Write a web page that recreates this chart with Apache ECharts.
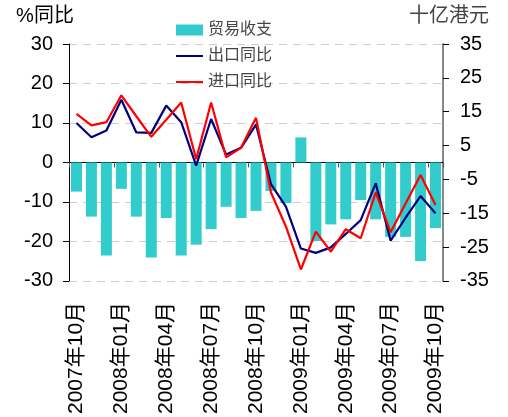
<!DOCTYPE html>
<html>
<head>
<meta charset="utf-8">
<script src="https://cdn.jsdelivr.net/npm/echarts@6/dist/echarts.min.js"></script>
<style>
  html, body { margin: 0; padding: 0; background: #fff; }
  #chart { width: 508px; height: 417px; }
</style>
</head>
<body>
<div id="chart"></div>
<script>
// 月份 2007年10月 - 2009年10月
const months = [
  "2007年10月", "2007年11月", "2007年12月",
  "2008年01月", "2008年02月", "2008年03月",
  "2008年04月", "2008年05月", "2008年06月",
  "2008年07月", "2008年08月", "2008年09月",
  "2008年10月", "2008年11月", "2008年12月",
  "2009年01月", "2009年02月", "2009年03月",
  "2009年04月", "2009年05月", "2009年06月",
  "2009年07月", "2009年08月", "2009年09月",
  "2009年10月"
];
// 贸易收支 (十亿港元, 右轴)
const tradeBalance = [
  -8.6, -16.0, -27.5, -7.8, -16.0, -28.1, -16.4, -27.5, -24.3, -19.7,
  -13.1, -16.4, -14.3, -8.4, -12.0, 7.4, -23.2, -18.3, -16.8, -11.1,
  -16.8, -22.0, -22.0, -29.1, -19.4
];
// 出口同比 (%)
const exportYoY = [
  10.0, 6.4, 8.1, 15.9, 7.6, 7.5, 14.4, 10.2, -0.8, 11.0,
  2.0, 3.7, 9.6, -5.5, -11.2, -21.8, -22.9, -21.5, -18.1, -14.6,
  -5.3, -19.8, -14.0, -8.5, -12.9
];
// 进口同比 (%)
const importYoY = [
  12.3, 9.4, 10.2, 17.0, 11.7, 6.5, 10.8, 15.2, 0.8, 15.2,
  1.3, 3.7, 11.3, -7.6, -16.2, -27.1, -17.5, -22.6, -16.9, -19.2,
  -7.6, -17.7, -10.4, -3.2, -10.8
];

const numFont = "'Liberation Sans', 'Noto Sans CJK SC', sans-serif";

const myChart = echarts.init(document.getElementById("chart"), null, { renderer: "canvas" });

const option = {
  animation: false,
  backgroundColor: "#fff",
  grid: { left: 69, right: 65, top: 44, bottom: 135 },
  legend: {
    orient: "vertical",
    left: 170,
    top: 17,
    itemWidth: 27,
    itemHeight: 11,
    itemGap: 10,
    textStyle: { fontSize: 16, lineHeight: 16, color: "#444", fontFamily: numFont },
    data: [
      { name: "贸易收支", icon: "rect" },
      { name: "出口同比", itemStyle: { opacity: 0 } },
      { name: "进口同比", itemStyle: { opacity: 0 } }
    ]
  },
  xAxis: [
    {
      // 零轴: 线 + 刻度
      type: "category",
      data: months,
      position: "bottom",
      axisLine: { onZero: true, lineStyle: { color: "#000", width: 1 } },
      axisTick: { show: true, interval: 2, length: 5, lineStyle: { color: "#555" } },
      axisLabel: { show: false },
      splitLine: { show: false }
    },
    {
      // 底部标签
      type: "category",
      data: months,
      position: "bottom",
      axisLine: { show: false, onZero: false },
      axisTick: { show: false },
      axisLabel: {
        interval: 2,
        rotate: 90,
        margin: 21,
        fontSize: 21,
        color: "#000",
        fontFamily: numFont
      },
      splitLine: { show: false }
    }
  ],
  yAxis: [
    {
      type: "value",
      min: -30,
      max: 30,
      interval: 10,
      position: "left",
      name: "%同比",
      nameGap: 18,
      nameTextStyle: { fontSize: 20, color: "#000", fontFamily: numFont, align: "center", padding: [0, 48, 0, 0] },
      axisLine: { show: true, lineStyle: { color: "#000", width: 1 } },
      axisTick: { show: true, length: 6, lineStyle: { color: "#000" } },
      axisLabel: { fontSize: 20, color: "#000", margin: 16, fontFamily: numFont },
      splitLine: { show: true, lineStyle: { type: [8, 6], color: "#ccc", width: 1 } }
    },
    {
      type: "value",
      min: -35,
      max: 35,
      interval: 10,
      position: "right",
      name: "十亿港元",
      nameGap: 18,
      nameTextStyle: { fontSize: 20, color: "#444", fontFamily: numFont, align: "center", padding: [0, 0, 0, 12] },
      axisLine: { show: true, lineStyle: { color: "#888", width: 2 } },
      axisTick: { show: true, length: 6, lineStyle: { color: "#000" } },
      axisLabel: { fontSize: 20, color: "#000", margin: 17, fontFamily: numFont },
      splitLine: { show: false }
    }
  ],
  series: [
    {
      name: "贸易收支",
      type: "bar",
      xAxisIndex: 0,
      yAxisIndex: 1,
      data: tradeBalance,
      barWidth: 11,
      itemStyle: { color: "#33CCCC" }
    },
    {
      name: "出口同比",
      type: "line",
      xAxisIndex: 0,
      yAxisIndex: 0,
      data: exportYoY,
      symbol: "none",
      lineStyle: { color: "#000080", width: 2.2 },
      itemStyle: { color: "#000080" }
    },
    {
      name: "进口同比",
      type: "line",
      xAxisIndex: 0,
      yAxisIndex: 0,
      data: importYoY,
      symbol: "none",
      lineStyle: { color: "#FF0000", width: 2.2 },
      itemStyle: { color: "#FF0000" }
    }
  ]
};

myChart.setOption(option);
</script>
</body>
</html>
